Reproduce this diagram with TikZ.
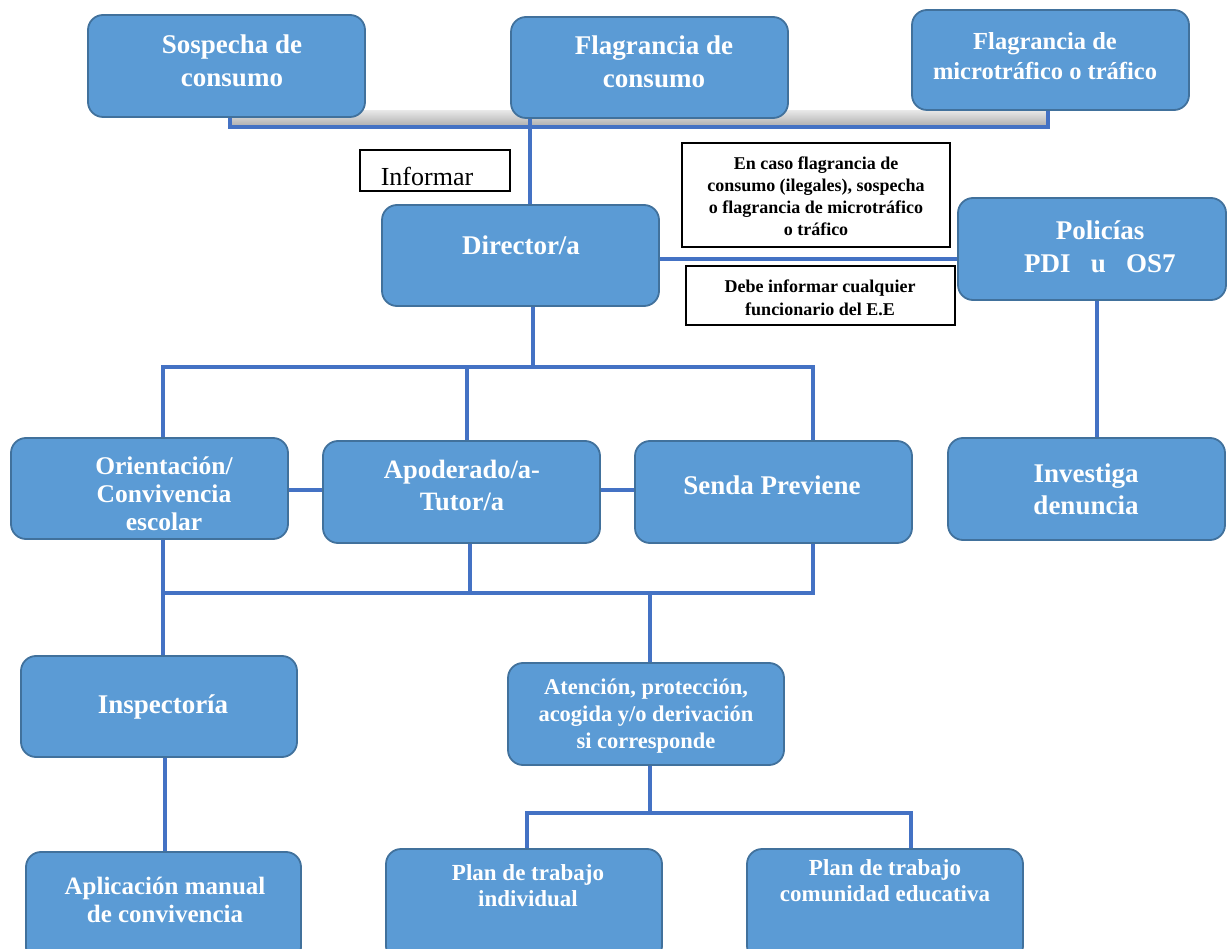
\documentclass[tikz,border=0pt]{standalone}
\usepackage{fontspec}
\setmainfont{Liberation Serif}
\definecolor{boxfill}{HTML}{5B9BD5}
\definecolor{boxline}{HTML}{41719C}
\definecolor{connblue}{HTML}{4472C4}
\tikzset{
  bluebox/.style={draw=boxline, line width=1.8pt, fill=boxfill, rounded corners=15pt, inner sep=0pt},
  notebox/.style={draw=black, line width=1.5pt, fill=white, inner sep=0pt},
  wtxt/.style={text=white, align=center, inner sep=0pt, font=\bfseries},
  btxt/.style={text=black, align=center, inner sep=0pt, font=\bfseries},
  conn/.style={draw=connblue, line width=3.2pt},
}
\newcommand{\fs}[2]{\fontsize{#1}{#2}\selectfont}
\begin{document}
\begin{tikzpicture}[x=1pt,y=-1pt]
\useasboundingbox (0,0) rectangle (1227,949);
\shade[top color=gray!20, bottom color=gray!60] (230,111) rectangle (1048,125);

\node[bluebox, minimum width=277pt, minimum height=102pt] (sos) at (226.5,66) {};
\node[bluebox, minimum width=277pt, minimum height=101pt] (fc) at (649.5,67.5) {};
\node[bluebox, minimum width=277pt, minimum height=100pt] (fm) at (1050.5,60) {};
\node[notebox, minimum width=150pt, minimum height=41pt] (inf) at (435,170.5) {};
\node[bluebox, minimum width=277pt, minimum height=101pt] (dir) at (520.5,255.5) {};
\node[notebox, minimum width=268pt, minimum height=104pt] (enc) at (816,195) {};
\node[notebox, minimum width=269pt, minimum height=59pt] (deb) at (820.5,295.5) {};
\node[bluebox, minimum width=268pt, minimum height=102pt] (pol) at (1092,249) {};
\node[bluebox, minimum width=277pt, minimum height=102pt] (inv) at (1086.5,489) {};
\node[bluebox, minimum width=277pt, minimum height=101pt] (ori) at (149.5,488.5) {};
\node[bluebox, minimum width=277pt, minimum height=102pt] (apo) at (461.5,492) {};
\node[bluebox, minimum width=277pt, minimum height=102pt] (sen) at (773.5,492) {};
\node[bluebox, minimum width=276pt, minimum height=101pt] (ins) at (159,706.5) {};
\node[bluebox, minimum width=276pt, minimum height=102pt] (ate) at (646,714) {};
\node[bluebox, minimum width=275pt, minimum height=110pt] (apl) at (163.5,907) {};
\node[bluebox, minimum width=276pt, minimum height=112pt] (pli) at (524,905) {};
\node[bluebox, minimum width=276pt, minimum height=112pt] (plc) at (885,905) {};

% texts
\node[wtxt, font=\bfseries\fs{27}{33}] (sos-t) at (232,61) {Sospecha de\\consumo};
\node[wtxt, font=\bfseries\fs{27}{33}] (fc-t) at (654,62) {Flagrancia de\\consumo};
\node[wtxt, font=\bfseries\fs{24.5}{30}] (fm-t) at (1045,56) {Flagrancia de\\microtráfico o tráfico};
\node[text=black, inner sep=0pt, font=\fs{26}{30}] (inf-t) at (427,176) {Informar};
\node[wtxt, font=\bfseries\fs{27}{33}] (dir-t) at (521,245) {Director/a};
\node[btxt, font=\bfseries\fs{18}{22}] (enc-t) at (816,196) {En caso flagrancia de\\consumo (ilegales), sospecha\\o flagrancia de microtráfico\\o tráfico};
\node[btxt, font=\bfseries\fs{18}{23}] (deb-t) at (820,298) {Debe informar cualquier\\funcionario del E.E};
\node[wtxt, font=\bfseries\fs{27}{33}] (pol-t) at (1100,247) {Policías\\PDI~~~u~~~OS7};
\node[wtxt, font=\bfseries\fs{27}{32}] (inv-t) at (1086,489) {Investiga\\denuncia};
\node[wtxt, font=\bfseries\fs{25.5}{28}] (ori-t) at (164,494) {Orientación/\\Convivencia\\escolar};
\node[wtxt, font=\bfseries\fs{26.5}{32}] (apo-t) at (462,485) {Apoderado/a-\\Tutor/a};
\node[wtxt, font=\bfseries\fs{27}{32}] (sen-t) at (772,485) {Senda Previene};
\node[wtxt, font=\bfseries\fs{27}{32}] (ins-t) at (163,707) {Inspectoría};
\node[wtxt, font=\bfseries\fs{22.5}{27}] (ate-t) at (646,716) {Atención, protección,\\acogida y/o derivación\\si corresponde};
\node[wtxt, font=\bfseries\fs{25}{28}] (apl-t) at (165,900) {Aplicación manual\\de convivencia};
\node[wtxt, font=\bfseries\fs{23}{26}] (pli-t) at (528,886) {Plan de trabajo\\individual};
\node[wtxt, font=\bfseries\fs{23}{26}] (plc-t) at (885,881) {Plan de trabajo\\comunidad educativa};

% guide coordinates
\coordinate (xa) at (230,0);
\coordinate (xb) at (1048,0);
\coordinate (ya) at (0,127);
\coordinate (xc) at (530,0);
\coordinate (yd) at (0,259);
\coordinate (xp) at (1097,0);
\coordinate (xd) at (533,0);
\coordinate (yh) at (0,367);
\coordinate (x1) at (163,0);
\coordinate (x2) at (467,0);
\coordinate (x3) at (813,0);
\coordinate (x2b) at (470,0);
\coordinate (yo) at (0,490);
\coordinate (yl) at (0,593);
\coordinate (xe) at (650,0);
\coordinate (xi) at (165,0);
\coordinate (yp) at (0,813);
\coordinate (xq) at (527,0);
\coordinate (xr) at (911,0);

% connectors
\draw[conn] (sos.south -| xa) -- (ya -| xa) -- (ya -| xb) -- (fm.south -| xb);
\draw[conn] (fc.south -| xc) -- (dir.north -| xc);
\draw[conn] (dir.east |- yd) -- (pol.west |- yd);
\draw[conn] (pol.south -| xp) -- (inv.north -| xp);
\draw[conn] (dir.south -| xd) -- (yh -| xd);
\draw[conn] (ori.north -| x1) -- (yh -| x1) -- (yh -| x3) -- (sen.north -| x3);
\draw[conn] (yh -| x2) -- (apo.north -| x2);
\draw[conn] (ori.east |- yo) -- (apo.west |- yo);
\draw[conn] (apo.east |- yo) -- (sen.west |- yo);
\draw[conn] (ori.south -| x1) -- (ins.north -| x1);
\draw[conn] (yl -| x1) -- (yl -| x3) -- (sen.south -| x3);
\draw[conn] (apo.south -| x2b) -- (yl -| x2b);
\draw[conn] (yl -| xe) -- (ate.north -| xe);
\draw[conn] (ins.south -| xi) -- (apl.north -| xi);
\draw[conn] (ate.south -| xe) -- (yp -| xe);
\draw[conn] (pli.north -| xq) -- (yp -| xq) -- (yp -| xr) -- (plc.north -| xr);
\end{tikzpicture}
\end{document}
